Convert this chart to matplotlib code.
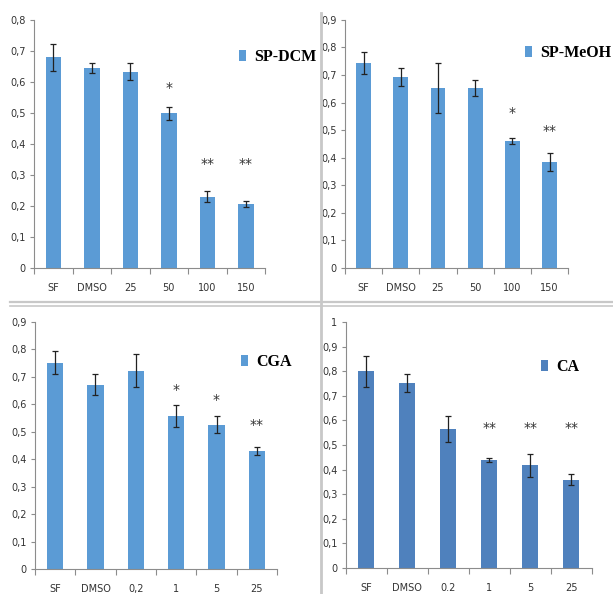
import matplotlib
matplotlib.use('Agg')
import matplotlib.pyplot as plt
from matplotlib.lines import Line2D

# data
cats_sp = ['SF', 'DMSO', '25', '50', '100', '150']
cats_cga = ['SF', 'DMSO', '0,2', '1', '5', '25']
cats_ca = ['SF', 'DMSO', '0.2', '1', '5', '25']

dcm_vals = [0.679, 0.646, 0.633, 0.499, 0.229, 0.206]
dcm_err = [0.044, 0.016, 0.028, 0.021, 0.018, 0.011]
dcm_stars = ['', '', '', '*', '**', '**']
dcm_star_y = [0, 0, 0, 0.58, 0.334, 0.334]

meoh_vals = [0.745, 0.692, 0.653, 0.653, 0.461, 0.384]
meoh_err = [0.040, 0.032, 0.090, 0.030, 0.012, 0.033]
meoh_stars = ['', '', '', '', '*', '**']
meoh_star_y = [0, 0, 0, 0, 0.562, 0.496]

cga_vals = [0.751, 0.672, 0.722, 0.558, 0.526, 0.431]
cga_err = [0.042, 0.037, 0.060, 0.041, 0.031, 0.014]
cga_stars = ['', '', '', '*', '*', '**']
cga_star_y = [0, 0, 0, 0.651, 0.615, 0.526]

ca_vals = [0.800, 0.752, 0.566, 0.440, 0.417, 0.359]
ca_err = [0.064, 0.035, 0.054, 0.008, 0.048, 0.022]
ca_stars = ['', '', '', '**', '**', '**']
ca_star_y = [0, 0, 0, 0.57, 0.57, 0.57]

ticklab_font = ['Liberation Sans Narrow', 'DejaVu Sans']
axis_grey = '#8c8c8c'

fig = plt.figure(figsize=(6.13, 5.94), dpi=100)


def panel(rect, cats, vals, errs, stars, star_y, ymax, name, color, leg_xy):
    ax = fig.add_axes(rect)
    x = list(range(len(cats)))
    bars = ax.bar(x, vals, width=0.4, color=color, yerr=errs,
                  error_kw=dict(ecolor='#222222', elinewidth=0.9, capsize=2.2, capthick=0.9),
                  label=name, zorder=2)
    for xi, s, sy in zip(x, stars, star_y):
        if s:
            ax.text(xi, sy, s, ha='center', va='center', fontsize=10, color='#333333')
    ax.set_xlim(-0.5, len(cats) - 0.5)
    ax.set_ylim(0, ymax)
    yt = [i / 10 for i in range(int(round(ymax * 10)) + 1)]
    ax.set_yticks(yt)
    ax.set_yticklabels([('%.1f' % t).replace('.', ',') if t not in (0, 1) else str(int(t)) for t in yt],
                       family=ticklab_font, fontsize=7, color='#333333')
    # excel style: tick marks between categories, labels in the middle
    ax.set_xticks([i - 0.5 for i in range(len(cats) + 1)])
    ax.set_xticklabels([])
    ax.set_xticks(x, minor=True)
    ax.set_xticklabels(cats, minor=True, family=ticklab_font, fontsize=7, color='#333333')
    ax.tick_params(axis='x', which='major', direction='out', length=4, color=axis_grey)
    ax.tick_params(axis='x', which='minor', length=0, pad=11)
    ax.tick_params(axis='y', direction='out', length=3, color=axis_grey, pad=3)
    for side in ('top', 'right'):
        ax.spines[side].set_visible(False)
    for side in ('left', 'bottom'):
        ax.spines[side].set_color(axis_grey)
        ax.spines[side].set_linewidth(0.8)
    ax.legend(handles=[bars], labels=[name], loc='center left',
              bbox_to_anchor=leg_xy, bbox_transform=fig.transFigure,
              frameon=False, handlelength=0.45, handleheight=0.75, handletextpad=0.5,
              borderpad=0, borderaxespad=0,
              prop={'family': 'Liberation Serif', 'weight': 'bold', 'size': 11.5})
    return ax


panel([0.0555, 0.549, 0.377, 0.4175], cats_sp, dcm_vals, dcm_err, dcm_stars, dcm_star_y,
      0.8, 'SP-DCM', '#5b9bd5', (239 / 613, 1 - 57 / 594))
panel([0.5628, 0.549, 0.364, 0.4175], cats_sp, meoh_vals, meoh_err, meoh_stars, meoh_star_y,
      0.9, 'SP-MeOH', '#5b9bd5', (525 / 613, 1 - 53 / 594))
panel([0.057, 0.042, 0.395, 0.416], cats_cga, cga_vals, cga_err, cga_stars, cga_star_y,
      0.9, 'CGA', '#5b9bd5', (241 / 613, 1 - 362 / 594))
panel([0.564, 0.0438, 0.401, 0.414], cats_ca, ca_vals, ca_err, ca_stars, ca_star_y,
      1.0, 'CA', '#4f81bd', (541 / 613, 1 - 367 / 594))

# separators between the four pictures
sep = '#c8c8c8'
fig.add_artist(Line2D([10 / 613, 1], [1 - 302 / 594] * 2, color=sep, lw=1.6))
fig.add_artist(Line2D([10 / 613, 1], [1 - 305.5 / 594] * 2, color=sep, lw=1.2))
fig.add_artist(Line2D([321 / 613] * 2, [0, 1 - 13 / 594], color=sep, lw=2))

fig.savefig('out.png', dpi=100)
